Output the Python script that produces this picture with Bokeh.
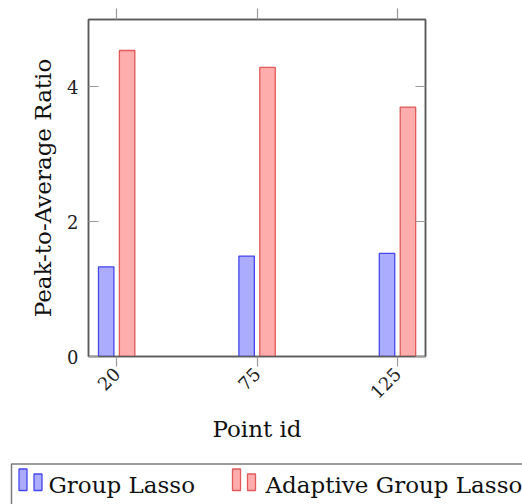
import math
import numpy as np
from bokeh.plotting import figure
from bokeh.models import Range1d, FixedTicker, LinearAxis, ColumnDataSource
from bokeh.layouts import column
from bokeh.transform import dodge
from bokeh.core.properties import value
from bokeh.embed import file_html
from bokeh.resources import INLINE

# ---- data ----
point_ids = ["20", "75", "125"]
group_lasso = [1.33, 1.49, 1.53]
adaptive_group_lasso = [4.54, 4.29, 3.70]
y_ticks = [0, 2, 4]
series_names = ["Group Lasso", "Adaptive Group Lasso"]

FONT = "DejaVu Serif"
BLUE_FILL, BLUE_LINE = "#acacff", "#4646ee"
RED_FILL, RED_LINE = "#ffacac", "#e05a5a"
FRAME = "#5a5a5a"
TICK = "#9a9a9a"

xs = list(range(len(point_ids)))
src = ColumnDataSource(dict(x=xs, gl=group_lasso, agl=adaptive_group_lasso))

p = figure(width=522, height=452, output_backend="svg", toolbar_location=None,
           x_range=Range1d(-0.2, 2.2), y_range=Range1d(0, 5),
           x_axis_location=None, y_axis_location=None,
           min_border_left=88, min_border_right=97, min_border_top=19,
           min_border_bottom=96)
p.frame_align = False
p.grid.visible = False
p.outline_line_color = FRAME
p.outline_line_width = 1.5
p.background_fill_color = "white"
p.border_fill_color = "white"

p.vbar(x=dodge("x", -0.074, range=p.x_range), top="gl", width=0.11, source=src,
       fill_color=BLUE_FILL, line_color=BLUE_LINE, line_width=1.3)
p.vbar(x=dodge("x", 0.075, range=p.x_range), top="agl", width=0.11, source=src,
       fill_color=RED_FILL, line_color=RED_LINE, line_width=1.3)

overrides = {i: lab for i, lab in zip(xs, point_ids)}

def style(ax):
    ax.axis_line_color = FRAME
    ax.axis_line_width = 1.5
    ax.major_tick_line_color = TICK
    ax.major_tick_line_width = 1.2
    ax.minor_tick_line_color = None
    ax.major_label_text_font = FONT
    ax.major_label_text_font_size = "18px"
    ax.major_label_text_color = "#222222"
    ax.axis_label_text_font = FONT
    ax.axis_label_text_font_style = "normal"
    ax.axis_label_text_font_size = "23px"
    ax.axis_label_text_color = "#111111"

def hide_labels(ax):
    ax.major_label_text_font_size = "0px"
    ax.major_label_text_color = None
    ax.major_label_standoff = 0

xb = LinearAxis(ticker=FixedTicker(ticks=xs), major_label_overrides=overrides,
                axis_label="Point id")
style(xb)
xb.major_tick_in = 0
xb.major_tick_out = 10
xb.major_label_orientation = math.pi / 4
xb.major_label_standoff = 4
xb.axis_label_standoff = 8
p.add_layout(xb, "below")

xt = LinearAxis(ticker=FixedTicker(ticks=xs))
style(xt)
xt.major_tick_in = 0
xt.major_tick_out = 11
hide_labels(xt)
p.add_layout(xt, "above")

yl = LinearAxis(ticker=FixedTicker(ticks=y_ticks), axis_label="Peak-to-Average Ratio")
style(yl)
yl.major_tick_in = 10
yl.major_tick_out = 0
yl.major_label_standoff = 10
yl.axis_label_standoff = 8
p.add_layout(yl, "left")

yr = LinearAxis(ticker=FixedTicker(ticks=y_ticks))
style(yr)
yr.major_tick_in = 10
yr.major_tick_out = 0
hide_labels(yr)
p.add_layout(yr, "right")

# ---- legend strip (drawn below the chart) ----
H = 52
lg = figure(width=522, height=H, output_backend="svg", toolbar_location=None,
            x_range=Range1d(0, 522), y_range=Range1d(H, 0),
            x_axis_location=None, y_axis_location=None,
            min_border=0)
lg.frame_align = False
lg.grid.visible = False
lg.outline_line_color = None
lg.background_fill_color = "white"
lg.border_fill_color = "white"

lg.quad(left=[11], right=[600], top=[11.5], bottom=[90], fill_color=None,
        line_color="#7a7a7a", line_width=1.5)
legend_cfg = [
    (series_names[0], BLUE_FILL, BLUE_LINE, 18.5, 48),
    (series_names[1], RED_FILL, RED_LINE, 232, 265),
]
for name, fc, lc, x0, tx in legend_cfg:
    lg.quad(left=[x0, x0 + 15], right=[x0 + 8, x0 + 23], top=[16.5, 21.5],
            bottom=[38, 38], fill_color=fc, line_color=lc, line_width=1.3)
    lg.text(x=[tx], y=[32], text=[name], text_font=value(FONT),
            text_font_size="23px", text_baseline="alphabetic",
            text_align="left", text_color="#111111")

layout = column(p, lg, spacing=0)
open("out.html", "w").write(file_html(layout, INLINE))
